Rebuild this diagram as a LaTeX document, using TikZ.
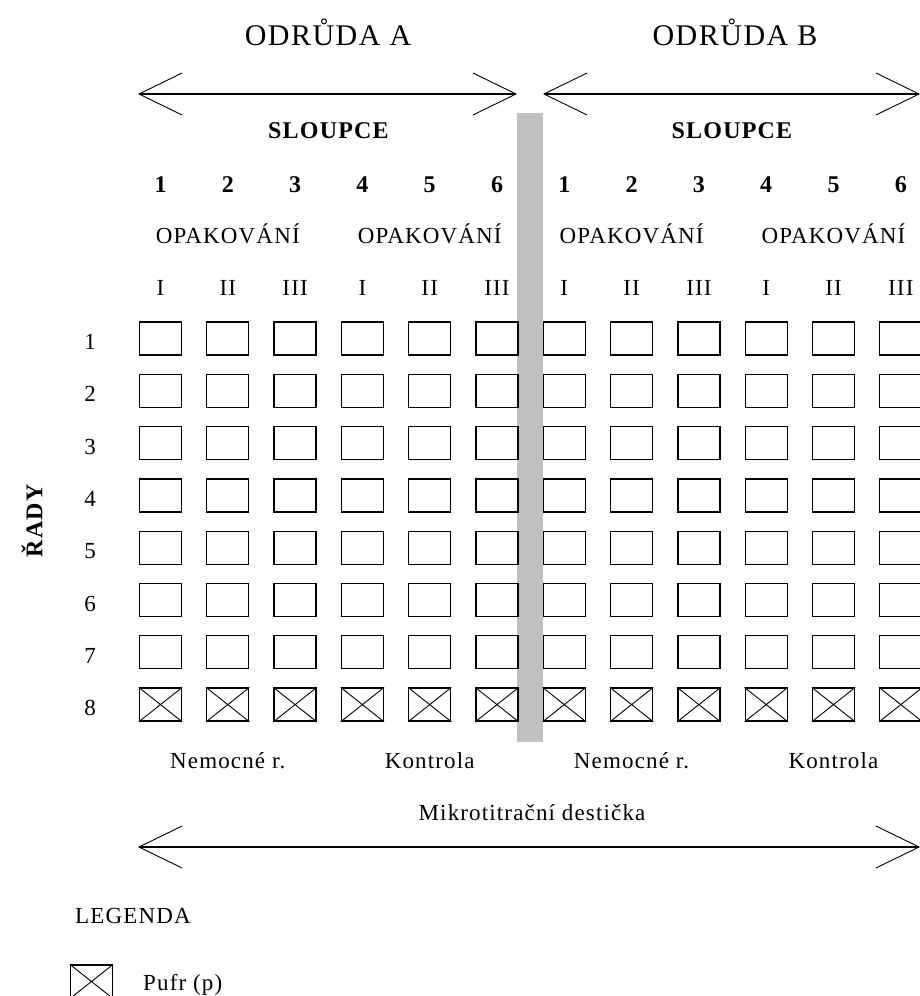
\documentclass[tikz,border=0pt]{standalone}
\usepackage{fontspec}
\setmainfont{Liberation Serif}[LetterSpace=5]
\usetikzlibrary{arrows.meta}
\definecolor{PlateGray}{RGB}{192,192,192}

\begin{document}
\begin{tikzpicture}[x=1pt,y=-1pt,
  well/.style={draw,line width=1.3pt,minimum width=42pt,minimum height=33pt,inner sep=0pt},
  lbl/.style={font=\fontsize{23}{27}\selectfont,anchor=base,inner sep=0pt},
  blbl/.style={font=\fontsize{24}{28}\selectfont\bfseries,anchor=base,inner sep=0pt},
  tlbl/.style={font=\fontsize{30}{34}\selectfont,anchor=base,inner sep=0pt},
  barb/.style={Straight Barb[length=43pt,width=42pt,line width=0.9pt]},
  arrow/.style={{Straight Barb[length=43pt,width=42pt,line width=0.9pt]}-{Straight Barb[length=43pt,width=42pt,line width=0.9pt]},line width=1.3pt}
]
\useasboundingbox (0,0) rectangle (920,996);

% separator between the two varieties
\fill[PlateGray] (517,113) rectangle (543,742);

% header
\node[tlbl] (odrA) at (328,45) {ODRŮDA A};
\node[tlbl] (odrB) at (735,45) {ODRŮDA B};
\coordinate (aL) at (138,94); \coordinate (aR) at (517,94);
\coordinate (bL) at (543,94); \coordinate (bR) at (920,94);
\draw[arrow] (aL) -- (aR);
\draw[arrow] (bL) -- (bR);
\node[blbl] (slA) at (328.5,138) {SLOUPCE};
\node[blbl] (slB) at (732,138) {SLOUPCE};

% column numbers and repetitions
\foreach \c/\t in {1/I,2/II,3/III,4/I,5/II,6/III}{
  \node[blbl] (nA-\c) at ({160.5+67.3*(\c-1)},192) {\c};
  \node[blbl] (nB-\c) at ({160.5+67.3*(\c+5)},192) {\c};
  \node[lbl] (rA-\c) at ({160.5+67.3*(\c-1)},295) {\t};
  \node[lbl] (rB-\c) at ({160.5+67.3*(\c+5)},295) {\t};
}
\foreach \c in {2,5,8,11}
  \node[lbl] (op-\c) at ({160.5+67.3*(\c-1)},243) {OPAKOVÁNÍ};

% wells
\foreach \r in {1,...,8}{
  \node[lbl] (row-\r) at (90,{338.5+52.3*(\r-1)+11}) {\r};
  \foreach \c in {1,...,12}
    \node[well] (w-\r-\c) at ({160.5+67.3*(\c-1)},{338.5+52.3*(\r-1)}) {};
}
\foreach \c in {1,...,12}
  \draw[line width=0.9pt] (w-8-\c.north west) -- (w-8-\c.south east)
    (w-8-\c.north east) -- (w-8-\c.south west);
\node[blbl,anchor=center,rotate=90] (rady) at (32,521) {ŘADY};

% bottom labels
\foreach \c/\t in {2/{Nemocné r.},5/Kontrola,8/{Nemocné r.},11/Kontrola}
  \node[lbl] (bt-\c) at ({160.5+67.3*(\c-1)},768) {\t};
\node[lbl] (plate) at (532,820) {Mikrotitrační destička};
\coordinate (pL) at (138,847); \coordinate (pR) at (920,847);
\draw[arrow] (pL) -- (pR);

% legend
\node[lbl,anchor=base west] (leg) at (75,923) {LEGENDA};
\node[well] (lbox) at (91.5,981.5) {};
\draw[line width=0.9pt] (lbox.north west) -- (lbox.south east)
  (lbox.north east) -- (lbox.south west);
\node[lbl,anchor=base west] (pufr) at (143,990) {Pufr (p)};
\end{tikzpicture}
\end{document}
